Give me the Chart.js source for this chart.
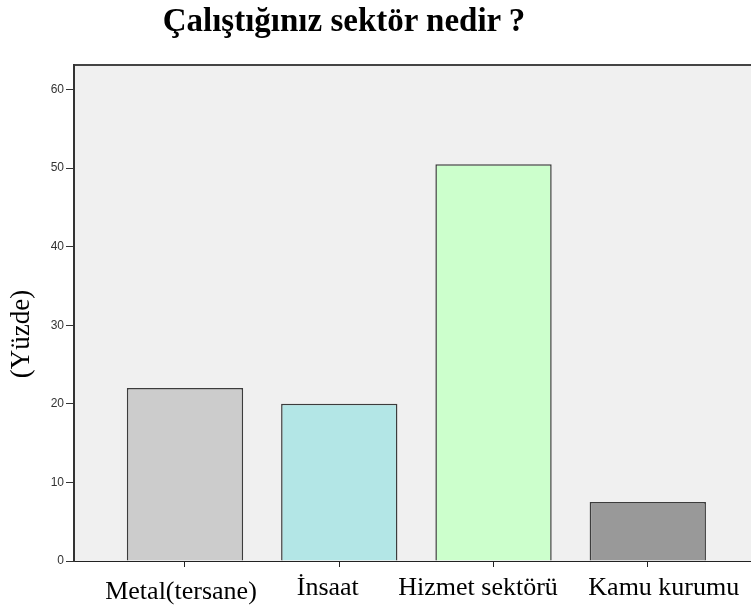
<!DOCTYPE html>
<html>
<head>
<meta charset="utf-8">
<script src="https://cdn.jsdelivr.net/npm/chart.js@4"></script>
<style>
  html, body { margin: 0; padding: 0; background: #fff; }
  #wrap { position: relative; width: 751px; height: 613px; }
  #title { position: absolute; left: 0; top: 4px; width: 688px; text-align: center;
           font: bold 33px "Liberation Serif", "Times New Roman", serif; line-height: 33px; color: #000; }
  canvas { position: absolute; left: 0; top: 0; }
</style>
</head>
<body>
<div id="wrap">
  <canvas id="c" width="751" height="613"></canvas>
  <div id="title">Çalıştığınız sektör nedir ?</div>
</div>
<script>
const categories = ["Metal(tersane)", "İnsaat", "Hizmet sektörü", "Kamu kurumu"];
const percentages = [22.0, 20.0, 50.5, 7.5];
const yTicks = [0, 10, 20, 30, 40, 50, 60];
const barColors = ["#cccccc", "#b3e6e6", "#ccffcc", "#999999"];
// layout tweaks for the category labels (pixel shifts from each tick, baseline below axis)
const labelDx = [-4, -11.5, -15.5, 16];
const labelBaseline = [38, 34, 34, 34];

const bgPlugin = {
  id: 'bg',
  beforeDraw(chart) {
    const { ctx, chartArea: a } = chart;
    ctx.save();
    ctx.fillStyle = '#f0f0f0';
    ctx.fillRect(a.left, a.top, a.right - a.left, a.bottom - a.top);
    ctx.strokeStyle = '#444';
    ctx.lineWidth = 2;
    ctx.beginPath();
    ctx.moveTo(a.left, a.top);
    ctx.lineTo(a.right, a.top);
    ctx.stroke();
    ctx.restore();
  },
  afterDraw(chart) {
    const { ctx } = chart;
    const xs = chart.scales.x;
    ctx.save();
    ctx.font = '26px "Liberation Serif", "Times New Roman", serif';
    ctx.fillStyle = '#000';
    ctx.textAlign = 'center';
    ctx.textBaseline = 'alphabetic';
    categories.forEach((c, i) => {
      ctx.fillText(c, xs.getPixelForValue(i) + labelDx[i], xs.top + labelBaseline[i]);
    });
    ctx.restore();

    ctx.save();
    ctx.translate(22, 334);
    ctx.rotate(-Math.PI / 2);
    ctx.font = '27px "Liberation Serif", "Times New Roman", serif';
    ctx.fillStyle = '#000';
    ctx.textAlign = 'center';
    ctx.textBaseline = 'middle';
    ctx.fillText('(Yüzde)', 0, 0);
    ctx.restore();
  }
};

new Chart(document.getElementById('c'), {
  type: 'bar',
  data: {
    labels: categories,
    datasets: [{
      label: 'Yüzde',
      data: percentages.map((v, i) => ({ x: i, y: v })),
      backgroundColor: barColors,
      borderColor: '#3c3c3c',
      borderWidth: 1.5,
      barPercentage: 1,
      categoryPercentage: 0.754
    }]
  },
  options: {
    responsive: false,
    animation: false,
    devicePixelRatio: 1,
    layout: { padding: { top: 65, left: 0, right: 0, bottom: 0 } },
    plugins: { legend: { display: false }, tooltip: { enabled: false }, title: { display: false } },
    scales: {
      x: {
        type: 'linear',
        offset: false,
        min: -0.7195,
        max: 3.669,
        afterFit(s) { s.height = 52; },
        afterBuildTicks(s) { s.ticks = categories.map((_, i) => ({ value: i })); },
        ticks: { display: false, stepSize: 1, includeBounds: false, autoSkip: false, maxRotation: 0 },
        grid: { offset: false, drawOnChartArea: false, drawTicks: true, tickLength: 6, color: '#222' },
        border: { color: '#222', width: 1 }
      },
      y: {
        min: 0,
        max: 63.12,
        afterFit(s) { s.width = 74; },
        afterBuildTicks(s) { s.ticks = yTicks.map(v => ({ value: v })); },
        ticks: {
          stepSize: 10,
          includeBounds: false,
          padding: 2,
          color: '#333',
          font: { family: '"Liberation Sans", Arial, sans-serif', size: 12 }
        },
        grid: { drawOnChartArea: false, drawTicks: true, tickLength: 8, color: '#333' },
        border: { color: '#333', width: 2 }
      }
    }
  },
  plugins: [bgPlugin]
});
</script>
</body>
</html>
